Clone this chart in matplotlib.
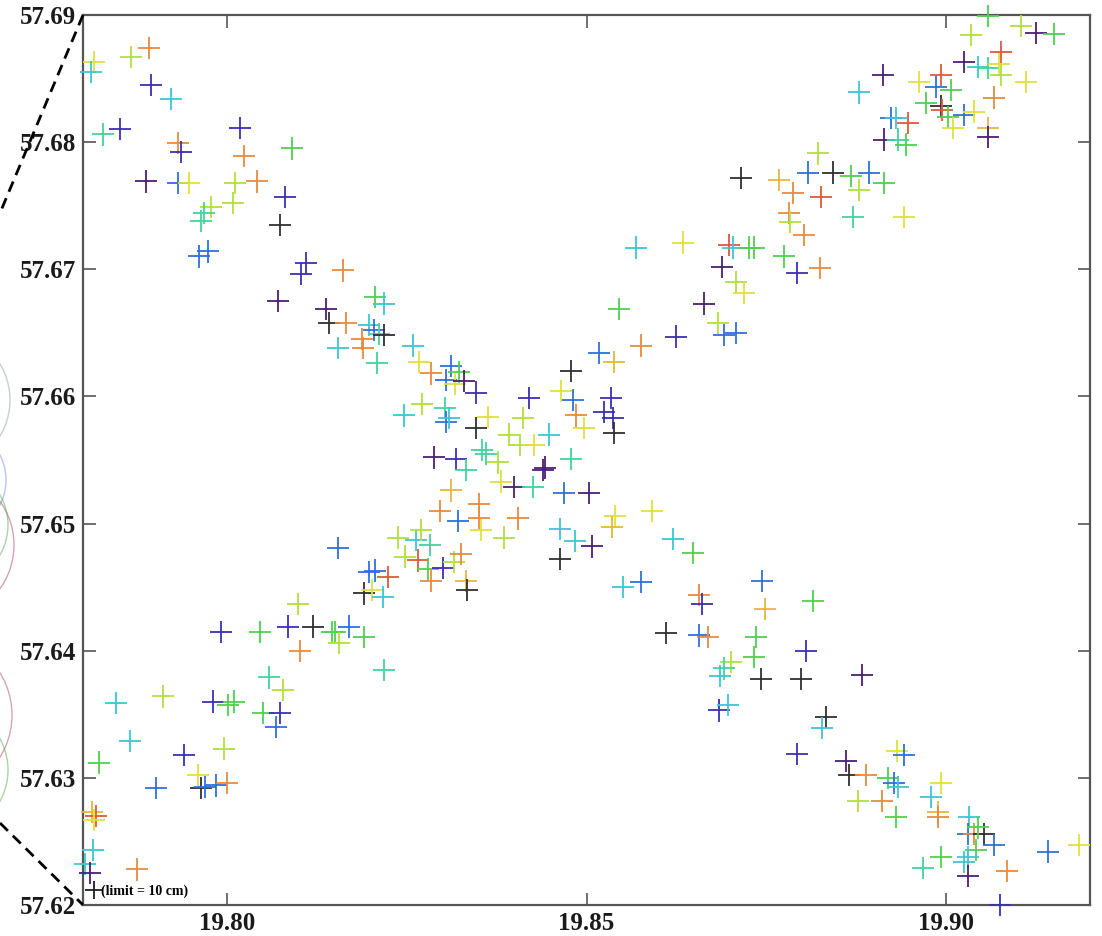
import matplotlib
matplotlib.use("Agg")
import matplotlib.pyplot as plt
from matplotlib.lines import Line2D
from matplotlib.patches import Arc

# ---- data (lon / lat in degrees, colour class per point)
lon = [
    19.7815, 19.7811, 19.7867, 19.7892, 19.7895, 19.7922, 19.7828, 19.7851, 19.7932, 19.7936,
    19.8018, 19.8024, 19.8091, 19.7888, 19.7932, 19.7947, 19.8011, 19.8042, 19.8009, 19.7978,
    19.7968, 19.7964, 19.8081, 19.8074, 19.7961, 19.7974, 19.8110, 19.8103, 19.8161, 19.8071,
    19.8138, 19.8142, 19.8166, 19.8206, 19.8218, 19.8154, 19.8188, 19.8189, 19.8198, 19.8204,
    19.8211, 19.8218, 19.8209, 19.8259, 19.8267, 19.8284, 19.8312, 19.8323, 19.8305, 19.8317,
    19.8330, 19.8346, 19.8271, 19.8246, 19.8303, 19.8305, 19.8309, 19.8346, 19.8363, 19.8420,
    19.8412, 19.8392, 19.8407, 19.8427, 19.8448, 19.8355, 19.8360, 19.8288, 19.8318, 19.8332,
    19.8377, 19.8439, 19.8442, 19.8478, 19.8381, 19.8399, 19.8426, 19.8312, 19.8469, 19.8503,
    19.8478, 19.8517, 19.8464, 19.8481, 19.8485, 19.8496, 19.8534, 19.8524, 19.8537, 19.8538,
    19.8538, 19.8576, 19.8545, 19.8296, 19.8350, 19.8350, 19.8321, 19.8353, 19.8405, 19.8385,
    19.8463, 19.8484, 19.8508, 19.8463, 19.8540, 19.8535, 19.8591, 19.8238, 19.8263, 19.8270,
    19.8282, 19.8154, 19.8248, 19.8266, 19.8280, 19.8300, 19.8316, 19.8325, 19.8284, 19.8332,
    19.8198, 19.8206, 19.8224, 19.8191, 19.8202, 19.8217, 19.8334, 19.8551, 19.8576, 19.8218,
    19.8620, 19.8648, 19.8744, 19.8656, 19.8660, 19.8748, 19.8815, 19.8610, 19.8656, 19.8669,
    19.8735, 19.8733, 19.8805, 19.8701, 19.8691, 19.8685, 19.8742, 19.8798, 19.8883, 19.8684,
    19.8697, 19.8833, 19.8827, 19.8792, 19.8861, 19.8865, 19.8888, 19.8931, 19.8941, 19.8919,
    19.8927, 19.8933, 19.8877, 19.8911, 19.8930, 19.8993, 19.8979, 19.8988, 19.8988, 19.9032,
    19.9030, 19.9038, 19.9052, 19.9044, 19.9041, 19.9066, 19.8993, 19.8968, 19.9025, 19.9030,
    19.9030, 19.9084, 19.9141, 19.9184, 19.9075,
    19.8099, 19.7992, 19.8046, 19.8085, 19.8120, 19.8146, 19.8150, 19.8170, 19.8156, 19.8191,
    19.8102, 19.8059, 19.8078, 19.8050, 19.8074, 19.8068, 19.7846, 19.7911, 19.7981, 19.8002,
    19.8010, 19.7865, 19.7822, 19.7940, 19.7996, 19.7901, 19.7960, 19.7964, 19.7970, 19.7985,
    19.8000, 19.7813, 19.7818, 19.7815, 19.7814, 19.7803, 19.7810, 19.7875,
    19.8715, 19.8767, 19.8808, 19.8843, 19.8868, 19.8822, 19.8787, 19.8826, 19.8781, 19.8783,
    19.8802, 19.8870, 19.8569, 19.8634, 19.8698, 19.8704, 19.8726, 19.8733, 19.8688, 19.8774,
    19.8792, 19.8824, 19.8708, 19.8719, 19.8663, 19.8683, 19.8691, 19.8708, 19.8624,
    19.9058, 19.9034, 19.9104, 19.9125, 19.9150, 19.9076, 19.9025, 19.9044, 19.9058, 19.9073,
    19.9076, 19.9111, 19.8912, 19.8993, 19.8962, 19.8986, 19.9007, 19.9066, 19.8879, 19.8972,
    19.8993, 19.8994, 19.9002, 19.9025, 19.9038, 19.9009, 19.9058, 19.9058, 19.8923, 19.8930,
    19.8947, 19.8913, 19.8933, 19.8944, 19.8893, 19.8879, 19.8913, 19.8941,
]

lat = [
    57.6863, 57.6855, 57.6867, 57.6874, 57.6845, 57.6834, 57.6806, 57.6810, 57.6799, 57.6792,
    57.6811, 57.6789, 57.6795, 57.6769, 57.6768, 57.6768, 57.6768, 57.6769, 57.6752, 57.6749,
    57.6744, 57.6738, 57.6757, 57.6735, 57.6710, 57.6714, 57.6705, 57.6696, 57.6699, 57.6675,
    57.6669, 57.6658, 57.6658, 57.6678, 57.6673, 57.6638, 57.6645, 57.6638, 57.6656, 57.6652,
    57.6649, 57.6648, 57.6626, 57.6640, 57.6627, 57.6618, 57.6624, 57.6619, 57.6613, 57.6610,
    57.6612, 57.6603, 57.6594, 57.6585, 57.6591, 57.6580, 57.6583, 57.6575, 57.6584, 57.6599,
    57.6583, 57.6570, 57.6562, 57.6562, 57.6570, 57.6558, 57.6555, 57.6552, 57.6551, 57.6542,
    57.6548, 57.6542, 57.6544, 57.6551, 57.6533, 57.6529, 57.6529, 57.6526, 57.6524, 57.6524,
    57.6620, 57.6634, 57.6604, 57.6597, 57.6585, 57.6575, 57.6599, 57.6588, 57.6583, 57.6571,
    57.6627, 57.6640, 57.6669, 57.6510, 57.6515, 57.6504, 57.6502, 57.6495, 57.6504, 57.6489,
    57.6496, 57.6486, 57.6482, 57.6472, 57.6506, 57.6497, 57.6510, 57.6489, 57.6487, 57.6495,
    57.6483, 57.6481, 57.6474, 57.6471, 57.6464, 57.6465, 57.6470, 57.6476, 57.6455, 57.6455,
    57.6462, 57.6463, 57.6458, 57.6445, 57.6448, 57.6442, 57.6448, 57.6450, 57.6454, 57.6385,
    57.6488, 57.6477, 57.6455, 57.6444, 57.6437, 57.6433, 57.6439, 57.6414, 57.6412, 57.6411,
    57.6411, 57.6395, 57.6400, 57.6391, 57.6386, 57.6380, 57.6378, 57.6378, 57.6381, 57.6353,
    57.6357, 57.6348, 57.6339, 57.6319, 57.6313, 57.6302, 57.6302, 57.6321, 57.6318, 57.6300,
    57.6296, 57.6293, 57.6282, 57.6282, 57.6269, 57.6296, 57.6285, 57.6273, 57.6269, 57.6269,
    57.6256, 57.6256, 57.6256, 57.6261, 57.6243, 57.6247, 57.6238, 57.6229, 57.6234, 57.6238,
    57.6223, 57.6227, 57.6242, 57.6247, 57.6200,
    57.6437, 57.6415, 57.6415, 57.6419, 57.6419, 57.6415, 57.6415, 57.6419, 57.6406, 57.6411,
    57.6400, 57.6379, 57.6369, 57.6351, 57.6351, 57.6340, 57.6359, 57.6364, 57.6360, 57.6357,
    57.6360, 57.6329, 57.6312, 57.6318, 57.6323, 57.6292, 57.6302, 57.6292, 57.6293, 57.6294,
    57.6296, 57.6273, 57.6270, 57.6267, 57.6243, 57.6232, 57.6225, 57.6228,
    57.6772, 57.6770, 57.6776, 57.6776, 57.6773, 57.6791, 57.6760, 57.6757, 57.6744, 57.6737,
    57.6727, 57.6741, 57.6717, 57.6721, 57.6719, 57.6717, 57.6717, 57.6717, 57.6702, 57.6710,
    57.6697, 57.6701, 57.6690, 57.6681, 57.6673, 57.6658, 57.6648, 57.6650, 57.6647,
    57.6899, 57.6884, 57.6891, 57.6886, 57.6885, 57.6871, 57.6863, 57.6859, 57.6858, 57.6861,
    57.6853, 57.6847, 57.6853, 57.6853, 57.6847, 57.6843, 57.6841, 57.6835, 57.6839, 57.6831,
    57.6828, 57.6825, 57.6820, 57.6821, 57.6824, 57.6811, 57.6811, 57.6804, 57.6819, 57.6819,
    57.6815, 57.6802, 57.6802, 57.6798, 57.6776, 57.6762, 57.6768, 57.6741,
]

cls = """
Y c y o v c t v o v  v o g p b Y y o y y  t t v k b b v v o p  p k o g c c o o c b
t k t c Y o b g b Y  p v y c t b c k Y v  y y y Y c t t p v t  y p p t Y p t a b p
k b Y b o Y v v v k  a o g o o o b Y o y  c c p k Y a Y y c y  t b y r g v y o o a
b b r k Y c k c b t  c g b o v a g k b o  g g v y t c k k p v  c k c v p k o Y b g
b c y o g Y c a o c  b o k g g b g t c c  p o b Y v
y v g v k g g b y g  o t y g v b c y v g  g c g v y b Y k b b  o a r Y c c p o
k a b k g y o r o y  o t c Y r c g g p g  v o y Y p y b b v
g y y p g r p c t Y  y Y p r Y b g o c g  k r g b Y Y a p b c  r p t g b y g Y
""".split()

x_ticks = [19.80, 19.85, 19.90]
y_ticks = [57.62, 57.63, 57.64, 57.65, 57.66, 57.67, 57.68, 57.69]
legend_label = "(limit = 10 cm)"

palette = {
    "k": "#303030", "p": "#4b1f72", "v": "#3b2fb8", "b": "#2f6fda",
    "c": "#3cc6d6", "t": "#3ed69e", "g": "#4fd04f", "y": "#b2e03c",
    "Y": "#e2df3a", "a": "#e6b63c", "o": "#e88a3e", "r": "#e0583a",
}

assert len(lon) == len(lat) == len(cls)

fig = plt.figure(figsize=(11.02, 9.36), dpi=100)
ax = fig.add_axes([0.0753, 0.0331, 0.914, 0.951])

ax.scatter(lon, lat, marker="+", s=16 ** 2, linewidths=1.3,
           c=[palette[k] for k in cls], clip_on=False, zorder=3)

ax.set_xlim(19.78, 19.92)
ax.set_ylim(57.62, 57.69)
ax.set_xticks(x_ticks)
ax.set_xticklabels([f"{v:.2f}" for v in x_ticks])
ax.set_yticks(y_ticks)
ax.set_yticklabels([f"{v:.2f}" for v in y_ticks])

font = {"family": "Liberation Serif", "weight": "bold", "size": 18}
for lab in ax.get_xticklabels() + ax.get_yticklabels():
    lab.set_fontproperties(font)
    lab.set_color("#1a1a1a")

ax.tick_params(direction="in", length=9, width=1.2, color="#555555",
               top=True, right=True, pad=5)
for sp in ax.spines.values():
    sp.set_color("#555555")
    sp.set_linewidth(1.6)

ax.legend(handles=[Line2D([], [], marker="+", color="#202020", ls="none",
                          markersize=13, mew=1.3)],
          labels=[legend_label], loc="lower left", frameon=False,
          handlelength=0.6, handletextpad=0.2, borderaxespad=0.3, borderpad=0.2,
          prop={"family": "Liberation Serif", "weight": "bold", "size": 10})

# zoom-box lines and clipped pieces of the neighbouring panel at the left edge
W, H = 1102.0, 936.0
fig.add_artist(Line2D([83 / W, 0], [1 - 15 / H, 1 - 213 / H], transform=fig.transFigure,
                      color="black", lw=2, ls=(0, (4, 2.5))))
fig.add_artist(Line2D([0, 83 / W], [1 - 823 / H, 1 - 905 / H], transform=fig.transFigure,
                      color="black", lw=2, ls=(0, (4, 2.5))))
for cy, r, col, dx in [(545, 75, "#b03050", 14), (715, 80, "#b03050", 12),
                       (400, 70, "#8090a8", 10), (525, 60, "#40a040", 8),
                       (770, 65, "#40a040", 8), (480, 55, "#6080d0", 6)]:
    fig.add_artist(Arc(((dx - r) / W, 1 - cy / H), 2 * r / W, 2 * r / H,
                       transform=fig.transFigure, color=col, lw=1.0, alpha=0.45))

fig.savefig("out.png", dpi=100)
